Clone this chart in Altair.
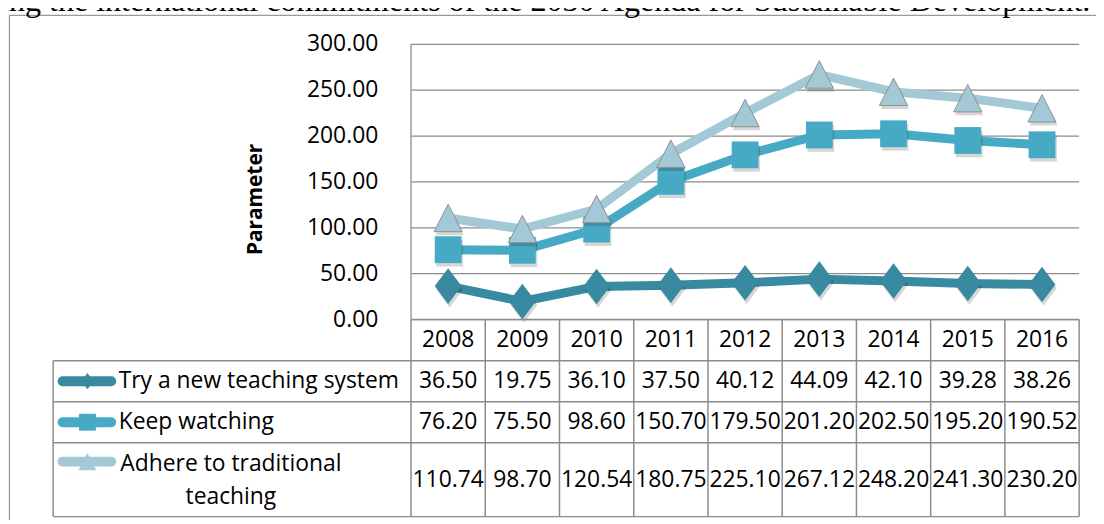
import altair as alt
import pandas as pd

# ---------------- data ----------------
YEARS = ["2008", "2009", "2010", "2011", "2012", "2013", "2014", "2015", "2016"]
SERIES = ["Try a new teaching system", "Keep watching", "Adhere to traditional teaching"]
SERIES_SHOWN = ["Try a new teaching system", "Keep watching", "Adhere to traditional\nteaching"]
TRY = [36.50, 19.75, 36.10, 37.50, 40.12, 44.09, 42.10, 39.28, 38.26]
KEEP = [76.20, 75.50, 98.60, 150.70, 179.50, 201.20, 202.50, 195.20, 190.52]
ADHERE = [110.74, 98.70, 120.54, 180.75, 225.10, 267.12, 248.20, 241.30, 230.20]
Y_TICKS = [0, 50, 100, 150, 200, 250, 300]
Y_TITLE = "Parameter"
CAPTION = "ing the international commitments of the 2030 Agenda for Sustainable Development."

# ---------------- style / layout ----------------
COLORS = ["#378AA0", "#47AAC5", "#A3C9D7"]
DIAMOND = "M0,-1.33L1,0L0,1.33L-1,0Z"
TRIANGLE = "M0,-0.97L1,0.97L-1,0.97Z"
SHAPES = [DIAMOND, "square", TRIANGLE]
SIZES = [729, 729, 810]
KEY_SIZES = [150, 290, 324]
FONT = "Open Sans"
FS = 23
GRID = "#8c8c8c"

W, H = 1096, 512
PLOT_L, PLOT_R = 406.0, 1079.0
ZERO_Y, TOP_Y = 312.0, 34.7
VTOP = 300.0
NCOL = len(YEARS)
COLW = (PLOT_R - PLOT_L) / NCOL
K = (ZERO_Y - TOP_Y) / VTOP
RPX = 41.35
ROW_EDGES = [0, 1, 2, 3, 4.8]
ROW_CENTERS = [(ROW_EDGES[i] + ROW_EDGES[i + 1]) / 2 for i in range(4)]
KEY_ROWS = [1.5, 2.5, 3.46]


def px2u(px):
    return (px - PLOT_L) / COLW


XS = alt.Scale(domain=[px2u(0), px2u(W)], nice=False, zero=False)
YVS = alt.Scale(domain=[-(H - ZERO_Y) / K, ZERO_Y / K], nice=False, zero=False)
YRS = alt.Scale(domain=[-ZERO_Y / RPX, (H - ZERO_Y) / RPX], nice=False, zero=False, reverse=True)

LEG_LU = px2u(45.5)


def X(f):
    return alt.X(f, type="quantitative", scale=XS, axis=None)


def YV(f):
    return alt.Y(f, type="quantitative", scale=YVS, axis=None)


def YR(f):
    return alt.Y(f, type="quantitative", scale=YRS, axis=None)


one = pd.DataFrame({"a": [0]})

# long data
rows = []
for s_i, vals in enumerate([TRY, KEEP, ADHERE]):
    for i, (yr, v) in enumerate(zip(YEARS, vals)):
        rows.append({"series": SERIES[s_i], "sidx": s_i, "year": yr, "xc": i + 0.5,
                     "value": v, "label": f"{v:.2f}", "row": ROW_CENTERS[s_i + 1]})
df = pd.DataFrame(rows)

header = pd.DataFrame({"year": YEARS, "xc": [i + 0.5 for i in range(NCOL)], "row": ROW_CENTERS[0]})
grid = pd.DataFrame({"v": Y_TICKS, "x0": 0.0, "x1": float(NCOL), "label": [f"{t:.2f}" for t in Y_TICKS]})
axis_line = pd.DataFrame({"x": [0.0], "v0": [0.0], "v1": [float(Y_TICKS[-1])]})
hlines = pd.DataFrame({"r": ROW_EDGES,
                       "xa": [0.0 if r == 0 else LEG_LU for r in ROW_EDGES],
                       "xb": float(NCOL)})
vx = [LEG_LU] + [float(i) for i in range(NCOL + 1)]
vlines = pd.DataFrame({"u": vx,
                       "ra": [ROW_EDGES[1] if u == LEG_LU else 0.0 for u in vx],
                       "rb": ROW_EDGES[-1]})

layers = []

# outer frame
layers.append(alt.Chart(one).mark_rect(fillOpacity=0, stroke="#9a9a9a", strokeWidth=1.3).encode(
    x=alt.value(1.5), y=alt.value(5.5), x2=alt.value(W + 60), y2=alt.value(H + 60)))

# clipped caption of the page above
layers.append(alt.Chart(one).mark_text(font="Liberation Serif", fontSize=32.3, align="left",
                                        baseline="alphabetic", color="black").encode(
    x=alt.value(-8), y=alt.value(1.5), text=alt.value(CAPTION)))

# gridlines
layers.append(alt.Chart(grid).mark_rule(color=GRID, strokeWidth=1.3).encode(
    x=X("x0"), x2="x1", y=YV("v")))
# y axis line
layers.append(alt.Chart(axis_line).mark_rule(color=GRID, strokeWidth=1.3).encode(
    x=X("x"), y=YV("v0"), y2="v1"))
# y tick labels
layers.append(alt.Chart(grid).mark_text(font=FONT, fontSize=FS, align="right", baseline="middle",
                                         dx=-33, color="black").encode(
    x=X("x0"), y=YV("v"), text="label:N"))
# y title
layers.append(alt.Chart(one).mark_text(font=FONT, fontSize=21, fontWeight="bold", angle=270,
                                        align="center", baseline="middle", color="black").encode(
    x=alt.value(249.5), y=alt.value(191), text=alt.value(Y_TITLE)))

# series
for s_i in range(3):
    d = df[df.sidx == s_i]
    c = COLORS[s_i]
    layers.append(alt.Chart(d).mark_line(color=c, strokeWidth=9, strokeJoin="round", strokeCap="round").encode(
        x=X("xc"), y=YV("value")))
    layers.append(alt.Chart(d).mark_point(shape=SHAPES[s_i], size=SIZES[s_i], filled=True, color="#000000",
                                          opacity=0.16, xOffset=1.5, yOffset=3.5).encode(
        x=X("xc"), y=YV("value")))
    mk = dict(shape=SHAPES[s_i], size=SIZES[s_i], filled=True, fill=c, opacity=1)
    if s_i == 2:
        mk.update(stroke="#8f8f8f", strokeWidth=1)
    else:
        mk.update(strokeWidth=0)
    layers.append(alt.Chart(d).mark_point(**mk).encode(x=X("xc"), y=YV("value")))

# table lines
layers.append(alt.Chart(hlines).mark_rule(color=GRID, strokeWidth=1.5).encode(
    x=X("xa"), x2="xb", y=YR("r")))
layers.append(alt.Chart(vlines).mark_rule(color=GRID, strokeWidth=1.5).encode(
    x=X("u"), y=YR("ra"), y2="rb"))

# header years
layers.append(alt.Chart(header).mark_text(font=FONT, fontSize=FS, align="center", baseline="middle",
                                           color="black").encode(
    x=X("xc"), y=YR("row"), text="year:N"))
# cell values
layers.append(alt.Chart(df).mark_text(font=FONT, fontSize=FS, align="center", baseline="middle",
                                       color="black").encode(
    x=X("xc"), y=YR("row"), text="label:N"))

# legend keys
keys = pd.DataFrame({"sidx": [0, 1, 2], "row": KEY_ROWS,
                     "xa": px2u(55), "xb": px2u(104), "xm": px2u(80)})
for s_i in range(3):
    k = keys[keys.sidx == s_i]
    c = COLORS[s_i]
    layers.append(alt.Chart(k).mark_rule(color=c, strokeWidth=10, strokeCap="round").encode(
        x=X("xa"), x2="xb", y=YR("row")))
    layers.append(alt.Chart(k).mark_point(shape=SHAPES[s_i], size=KEY_SIZES[s_i], filled=True,
                                          fill=c, opacity=1, strokeWidth=0).encode(
        x=X("xm"), y=YR("row")))

# legend labels
labs = pd.DataFrame({"text": SERIES_SHOWN[:2], "row": ROW_CENTERS[1:3], "x": px2u(111.5)})
layers.append(alt.Chart(labs).mark_text(font=FONT, fontSize=FS, align="left", baseline="middle",
                                         color="black").encode(
    x=X("x"), y=YR("row"), text="text:N"))
lab3 = pd.DataFrame({"text": [SERIES_SHOWN[2]], "row": [ROW_CENTERS[3]], "x": [px2u(224.5)]})
layers.append(alt.Chart(lab3).mark_text(font=FONT, fontSize=FS, align="center", baseline="middle",
                                         lineBreak="\n", lineHeight=34, dy=-16, color="black").encode(
    x=X("x"), y=YR("row"), text="text:N"))

chart = alt.layer(*layers).resolve_scale(y="independent").properties(
    width=W, height=H, autosize=alt.AutoSizeParams(type="none"), padding=0, background="white"
).configure_view(stroke=None)

chart.save("out.html", embed_options={"renderer": "svg", "actions": False})
